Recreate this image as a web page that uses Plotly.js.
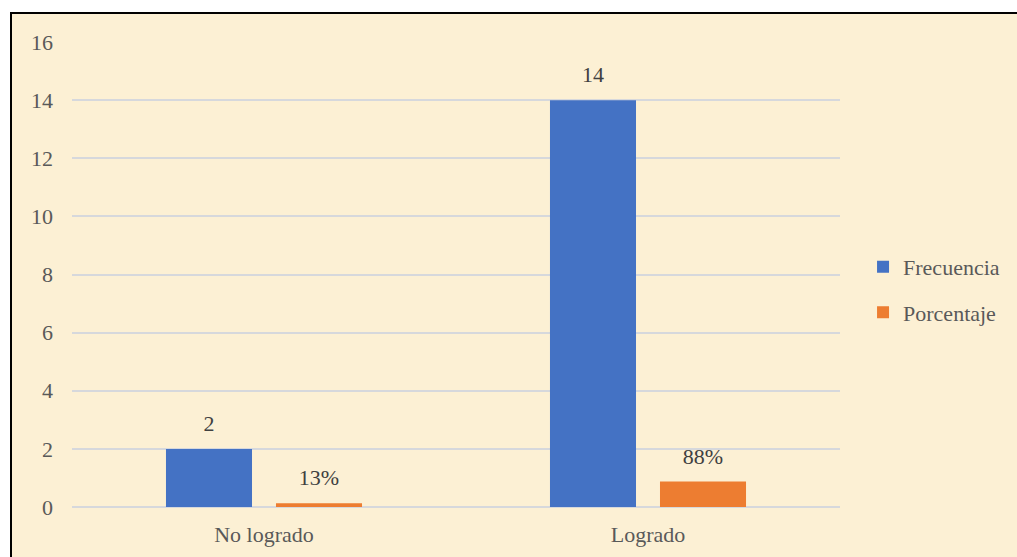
<!DOCTYPE html>
<html>
<head>
<meta charset="utf-8">
<script src="https://cdn.plot.ly/plotly-3.0.1.min.js"></script>
<style>
  html, body { margin: 0; padding: 0; background: #ffffff; }
  #frame {
    position: absolute; left: 10px; top: 12px;
    width: 1005px; height: 543px;
    border-left: 2px solid #000000;
    border-top: 2px solid #000000;
    background: #fcf0d4;
  }
</style>
</head>
<body>
<div id="frame"><div id="chart" style="width:1005px;height:543px"></div></div>
<script>
// datos
var categorias = ['No logrado', 'Logrado'];
var frecuencia = [2, 14];
var porcentaje = [0.13, 0.88];
var etiqFrec = ['2', '14'];
var etiqPorc = ['13%', '88%'];

var familia = 'Liberation Serif';

function dibujar() {
    var trazaFrec = {
        type: 'bar',
        name: 'Frecuencia',
        legendgroup: 'a',
        offsetgroup: 'a',
        x: categorias,
        y: frecuencia,
        marker: {color: '#4472c4'}
    };

    var trazaPorc = {
        type: 'bar',
        name: 'Porcentaje',
        legendgroup: 'b',
        offsetgroup: 'b',
        x: categorias,
        y: porcentaje,
        marker: {color: '#ed7d31'}
    };

    // etiquetas de datos encima de cada barra
    var textoFrec = {
        type: 'scatter',
        mode: 'markers+text',
        offsetgroup: 'a',
        x: categorias,
        y: frecuencia,
        text: etiqFrec,
        textposition: 'top center',
        textfont: {family: familia, size: 22, color: '#404040'},
        marker: {size: 18, opacity: 0},
        showlegend: false,
        hoverinfo: 'skip',
        cliponaxis: false
    };

    var textoPorc = {
        type: 'scatter',
        mode: 'markers+text',
        offsetgroup: 'b',
        x: categorias,
        y: porcentaje,
        text: etiqPorc,
        textposition: 'top center',
        textfont: {family: familia, size: 22, color: '#404040'},
        marker: {size: 18, opacity: 0},
        showlegend: false,
        hoverinfo: 'skip',
        cliponaxis: false
    };

    var layout = {
        width: 1005,
        height: 543,
        margin: {l: 60, r: 177, t: 28, b: 50},
        paper_bgcolor: '#fcf0d4',
        plot_bgcolor: '#fcf0d4',
        font: {family: familia, size: 22, color: '#595959'},
        barmode: 'group',
        scattermode: 'group',
        bargap: 0.427,
        bargroupgap: 0.218,
        showlegend: true,
        legend: {
            x: 1.03, xanchor: 'left',
            y: 0.467, yanchor: 'middle',
            traceorder: 'grouped',
            tracegroupgap: 14,
            itemwidth: 30,
            bgcolor: 'rgba(0,0,0,0)'
        },
        xaxis: {
            showgrid: false,
            showline: false,
            ticks: '',
            ticklabelstandoff: 12
        },
        yaxis: {
            range: [0, 16],
            dtick: 2,
            showgrid: true,
            gridcolor: '#d6d8dc',
            gridwidth: 1.5,
            zeroline: true,
            zerolinecolor: '#d6d8dc',
            zerolinewidth: 1.5,
            showline: false,
            ticks: '',
            ticklabelstandoff: 18
        }
    };

    return Plotly.newPlot('chart', [trazaFrec, trazaPorc, textoFrec, textoPorc], layout, {displayModeBar: false});
}

// esperar a la fuente antes de dibujar
var cargaFuente = (document.fonts && document.fonts.load)
    ? document.fonts.load('22px "' + familia + '"')
    : Promise.resolve();
cargaFuente.catch(function () {}).then(dibujar).then(function () {
    if (document.fonts && document.fonts.ready) {
        document.fonts.ready.then(function () { Plotly.redraw('chart'); });
    }
});
</script>
</body>
</html>
